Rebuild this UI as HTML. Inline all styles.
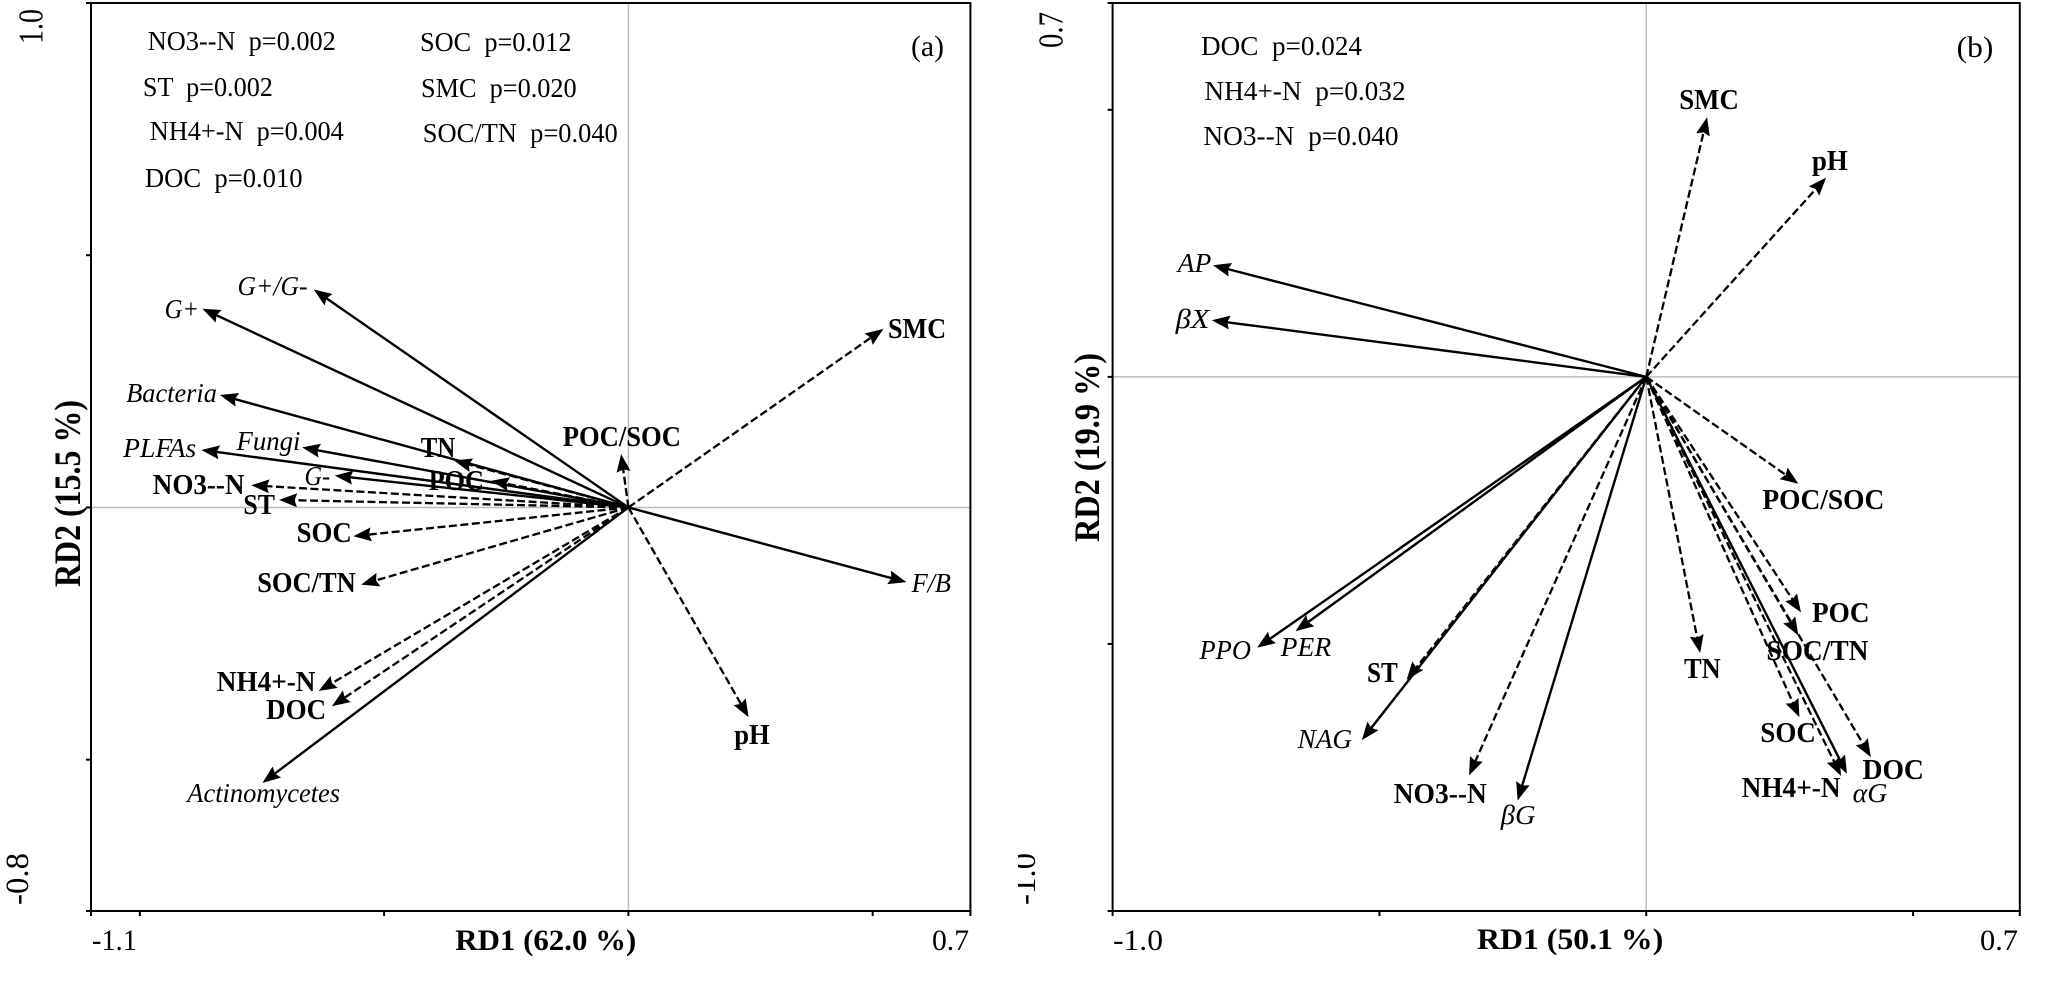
<!DOCTYPE html>
<html>
<head>
<meta charset="utf-8">
<title>RDA biplots</title>
<style>
html,body{margin:0;padding:0;background:#fff;width:2066px;height:986px;overflow:hidden}
svg{display:block;position:absolute;left:0;top:0}
text{font-family:"Liberation Serif",serif;fill:#000;white-space:pre}
.b{font-weight:bold;font-size:28px}
.i{font-style:italic;font-size:27px}
.r{font-size:27px}
.t{font-size:30px}
.at{font-size:30px;font-weight:bold}
</style>
</head>
<body>
<svg id="chart" width="2066" height="986" viewBox="0 0 2066 986" xmlns="http://www.w3.org/2000/svg">
<defs><clipPath id="clipTick"><rect x="1018" y="840" width="40" height="80"/></clipPath></defs>
<g id="marksA"></g>
<g id="marksB"></g>

<!-- Panel a static text -->
<g>
<text class="r" x="147.8" y="50" textLength="188" lengthAdjust="spacingAndGlyphs">NO3--N  p=0.002</text>
<text class="r" x="142.9" y="96" textLength="130" lengthAdjust="spacingAndGlyphs">ST  p=0.002</text>
<text class="r" x="149.8" y="140" textLength="194" lengthAdjust="spacingAndGlyphs">NH4+-N  p=0.004</text>
<text class="r" x="144.9" y="187" textLength="157.7" lengthAdjust="spacingAndGlyphs">DOC  p=0.010</text>
<text class="r" x="420" y="51" textLength="151.5" lengthAdjust="spacingAndGlyphs">SOC  p=0.012</text>
<text class="r" x="421" y="97" textLength="155.7" lengthAdjust="spacingAndGlyphs">SMC  p=0.020</text>
<text class="r" x="422.8" y="142" textLength="195" lengthAdjust="spacingAndGlyphs">SOC/TN  p=0.040</text>
</g>
<text class="t" x="911" y="56" textLength="33" lengthAdjust="spacingAndGlyphs">(a)</text>

<g>
<text class="i" x="237.5" y="295" textLength="70" lengthAdjust="spacingAndGlyphs">G+/G-</text>
<text class="i" x="164.6" y="318" textLength="34.5" lengthAdjust="spacingAndGlyphs">G+</text>
<text class="i" x="126.2" y="402" textLength="90.7" lengthAdjust="spacingAndGlyphs">Bacteria</text>
<text class="i" x="236.5" y="450" textLength="64" lengthAdjust="spacingAndGlyphs">Fungi</text>
<text class="i" x="123.2" y="457" textLength="73" lengthAdjust="spacingAndGlyphs">PLFAs</text>
<text class="b" x="420.8" y="457" textLength="34.5" lengthAdjust="spacingAndGlyphs">TN</text>
<text class="b" x="428.7" y="490" textLength="55.2" lengthAdjust="spacingAndGlyphs">POC</text>
<text class="i" x="304.5" y="485" textLength="25.6" lengthAdjust="spacingAndGlyphs">G-</text>
<text class="b" x="152.8" y="494" textLength="91.7" lengthAdjust="spacingAndGlyphs">NO3--N</text>
<text class="b" x="243.4" y="514" textLength="31.5" lengthAdjust="spacingAndGlyphs">ST</text>
<text class="b" x="296.6" y="542" textLength="55.2" lengthAdjust="spacingAndGlyphs">SOC</text>
<text class="b" x="257.2" y="592" textLength="98.6" lengthAdjust="spacingAndGlyphs">SOC/TN</text>
<text class="b" x="216.8" y="691" textLength="98.6" lengthAdjust="spacingAndGlyphs">NH4+-N</text>
<text class="b" x="266.1" y="719" textLength="60.1" lengthAdjust="spacingAndGlyphs">DOC</text>
<text class="i" x="187.3" y="802" textLength="152.8" lengthAdjust="spacingAndGlyphs">Actinomycetes</text>
<text class="b" x="734.2" y="744" textLength="35.5" lengthAdjust="spacingAndGlyphs">pH</text>
<text class="i" x="911.6" y="592" textLength="39.4" lengthAdjust="spacingAndGlyphs">F/B</text>
<text class="b" x="888" y="338" textLength="58.1" lengthAdjust="spacingAndGlyphs">SMC</text>
<text class="b" x="562.7" y="446" textLength="118.3" lengthAdjust="spacingAndGlyphs">POC/SOC</text>
</g>

<text class="t" x="92" y="950" textLength="45" lengthAdjust="spacingAndGlyphs">-1.1</text>
<text class="t" x="932" y="950" textLength="37" lengthAdjust="spacingAndGlyphs">0.7</text>
<text class="at" x="455.3" y="950" textLength="181" lengthAdjust="spacingAndGlyphs">RD1 (62.0 %)</text>
<text class="at" transform="translate(80,587) rotate(-90) scale(1,1.25)" textLength="187" lengthAdjust="spacingAndGlyphs">RD2 (15.5 %)</text>
<text style="font-size:28px" transform="translate(42.4,44) rotate(-90) scale(1,1.25)" textLength="35" lengthAdjust="spacingAndGlyphs">1.0</text>
<text class="t" transform="translate(28,905) rotate(-90) scale(1,1.1)" textLength="52" lengthAdjust="spacingAndGlyphs">-0.8</text>

<!-- Panel b static text -->
<g>
<text class="r" x="1201" y="55" textLength="161" lengthAdjust="spacingAndGlyphs">DOC  p=0.024</text>
<text class="r" x="1204.4" y="100" textLength="201.2" lengthAdjust="spacingAndGlyphs">NH4+-N  p=0.032</text>
<text class="r" x="1203.4" y="145" textLength="195.2" lengthAdjust="spacingAndGlyphs">NO3--N  p=0.040</text>
</g>
<text class="t" x="1956.7" y="57" textLength="36.7" lengthAdjust="spacingAndGlyphs">(b)</text>

<g>
<text class="b" x="1679.3" y="109" textLength="59.5" lengthAdjust="spacingAndGlyphs">SMC</text>
<text class="b" x="1812" y="170" textLength="35.7" lengthAdjust="spacingAndGlyphs">pH</text>
<text class="i" x="1177.7" y="272" textLength="33.7" lengthAdjust="spacingAndGlyphs">AP</text>
<text class="i" x="1175.7" y="328" textLength="33.7" lengthAdjust="spacingAndGlyphs">βX</text>
<text class="b" x="1762.4" y="509" textLength="121.9" lengthAdjust="spacingAndGlyphs">POC/SOC</text>
<text class="b" x="1812" y="622" textLength="57.5" lengthAdjust="spacingAndGlyphs">POC</text>
<text class="b" x="1766.4" y="660" textLength="102" lengthAdjust="spacingAndGlyphs">SOC/TN</text>
<text class="b" x="1684" y="678" textLength="36.7" lengthAdjust="spacingAndGlyphs">TN</text>
<text class="b" x="1760.4" y="742" textLength="55.5" lengthAdjust="spacingAndGlyphs">SOC</text>
<text class="b" x="1862.5" y="779" textLength="61.4" lengthAdjust="spacingAndGlyphs">DOC</text>
<text class="b" x="1741.6" y="797" textLength="99" lengthAdjust="spacingAndGlyphs">NH4+-N</text>
<text class="i" x="1852.6" y="802" textLength="34.7" lengthAdjust="spacingAndGlyphs">αG</text>
<text class="i" x="1500.8" y="824" textLength="34.7" lengthAdjust="spacingAndGlyphs">βG</text>
<text class="b" x="1393.7" y="803" textLength="93.2" lengthAdjust="spacingAndGlyphs">NO3--N</text>
<text class="i" x="1297.6" y="748" textLength="54.5" lengthAdjust="spacingAndGlyphs">NAG</text>
<text class="b" x="1367" y="682" textLength="30.7" lengthAdjust="spacingAndGlyphs">ST</text>
<text class="i" x="1199.5" y="659" textLength="51.5" lengthAdjust="spacingAndGlyphs">PPO</text>
<text class="i" x="1280.7" y="656" textLength="50.5" lengthAdjust="spacingAndGlyphs">PER</text>
</g>

<text class="t" x="1113" y="950" textLength="50" lengthAdjust="spacingAndGlyphs">-1.0</text>
<text class="t" x="1980" y="950" textLength="38" lengthAdjust="spacingAndGlyphs">0.7</text>
<text class="at" x="1477" y="949" textLength="186.3" lengthAdjust="spacingAndGlyphs">RD1 (50.1 %)</text>
<text class="at" transform="translate(1099,542) rotate(-90) scale(1,1.2)" textLength="189" lengthAdjust="spacingAndGlyphs">RD2 (19.9 %)</text>
<text style="font-size:28px" transform="translate(1062.7,48) rotate(-90) scale(1,1.25)" textLength="36" lengthAdjust="spacingAndGlyphs">0.7</text>
<g clip-path="url(#clipTick)"><text class="t" transform="translate(1035,905) rotate(-90) scale(1,1.1)" textLength="52" lengthAdjust="spacingAndGlyphs">-1.0</text></g>
</svg>

<script>
// Panel (a) — response variables (solid arrows)
const respNamesA = ["G+/G-","G+","Bacteria","Fungi","PLFAs","G-","Actinomycetes","F/B"];
const respRd1A = [-0.644,-0.872,-0.836,-0.668,-0.874,-0.601,-0.749,0.569];
const respRd2A = [0.432,0.394,0.223,0.119,0.114,0.063,-0.546,-0.148];
// Panel (a) — environmental variables (dashed arrows)
const envNamesA = ["TN","POC","NO3--N","ST","SOC","SOC/TN","NH4+-N","DOC","pH","SMC","POC/SOC"];
const envRd1A = [-0.357,-0.281,-0.772,-0.715,-0.563,-0.547,-0.634,-0.607,0.246,0.522,-0.015];
const envRd2A = [0.093,0.053,0.044,0.015,-0.057,-0.153,-0.364,-0.394,-0.416,0.354,0.106];
const xTicksA = [-1.1,-1.0,-0.5,0,0.5,0.7];
const yTicksA = [1.0,0.5,0,-0.5,-0.8];

// Panel (b) — response variables (solid arrows)
const respNamesB = ["AP","βX","PPO","PER","NAG","βG","αG"];
const respRd1B = [-0.812,-0.814,-0.729,-0.657,-0.533,-0.241,0.376];
const respRd2B = [0.209,0.106,-0.507,-0.476,-0.680,-0.793,-0.743];
// Panel (b) — environmental variables (dashed arrows)
const envNamesB = ["SMC","pH","POC/SOC","ST","NO3--N","TN","POC","SOC/TN","SOC","NH4+-N","DOC"];
const envRd1B = [0.114,0.337,0.285,-0.449,-0.332,0.101,0.290,0.285,0.287,0.365,0.421];
const envRd2B = [0.486,0.373,-0.200,-0.567,-0.746,-0.517,-0.441,-0.484,-0.637,-0.747,-0.712];
const xTicksB = [-1.0,-0.5,0,0.5,0.7];
const yTicksB = [0.7,0.5,0,-0.5,-1.0];

const NS = "http://www.w3.org/2000/svg";

function scale(d0, d1, r0, r1) {
  return function (v) { return r0 + (v - d0) / (d1 - d0) * (r1 - r0); };
}

function el(parent, tag, attrs) {
  const n = document.createElementNS(NS, tag);
  for (const k in attrs) n.setAttribute(k, attrs[k]);
  parent.appendChild(n);
  return n;
}

function drawArrow(g, sx, sy, x, y, name, dashed) {
  const x0 = sx(0), y0 = sy(0), x1 = sx(x), y1 = sy(y);
  const len = Math.hypot(x1 - x0, y1 - y0) || 1;
  const ux = (x1 - x0) / len, uy = (y1 - y0) / len;
  const hl = 18, hw = 7;
  const bx = x1 - ux * hl, by = y1 - uy * hl;
  const nx = bx + ux * 2.5, ny = by + uy * 2.5;
  const line = el(g, "line", {
    x1: x0, y1: y0, x2: nx + ux, y2: ny + uy,
    stroke: "#000",
    "stroke-width": dashed ? 2.3 : 2.4,
    "stroke-dasharray": dashed ? "8 3.5" : "none"
  });
  
  
  const head = el(g, "polygon", {
    points: x1 + "," + y1 + " " + (bx - uy * hw) + "," + (by + ux * hw) + " " + nx + "," + ny + " " + (bx + uy * hw) + "," + (by - ux * hw),
    fill: "#000"
  });
  
  
}

function drawPanel(gid, xDom, yDom, xRange, yRange, xTicks, yTicks, resp, env) {
  const g = document.getElementById(gid);
  const sx = scale(xDom[0], xDom[1], xRange[0], xRange[1]);
  const sy = scale(yDom[0], yDom[1], yRange[0], yRange[1]);

  const zeroV = el(g, "line", { x1: sx(0), x2: sx(0), y1: yRange[1], y2: yRange[0], stroke: "#bdbdbd", "stroke-width": 1.5 });
  
  
  const zeroH = el(g, "line", { x1: xRange[0], x2: xRange[1], y1: sy(0), y2: sy(0), stroke: "#bdbdbd", "stroke-width": 1.5 });
  
  

  const frame = el(g, "rect", {
    x: xRange[0], y: yRange[1], width: xRange[1] - xRange[0], height: yRange[0] - yRange[1],
    fill: "none", stroke: "#000", "stroke-width": 2
  });
  
  

  xTicks.forEach(function (t) {
    const tick = el(g, "line", { x1: sx(t), x2: sx(t), y1: yRange[0], y2: yRange[0] + 5, stroke: "#000", "stroke-width": 2 });
    
    
  });
  yTicks.forEach(function (t) {
    const tick = el(g, "line", { x1: xRange[0] - 5, x2: xRange[0], y1: sy(t), y2: sy(t), stroke: "#000", "stroke-width": 2 });
    
    
  });

  resp[0].forEach(function (name, i) { drawArrow(g, sx, sy, resp[1][i], resp[2][i], name, false); });
  env[0].forEach(function (name, i) { drawArrow(g, sx, sy, env[1][i], env[2][i], name, true); });
}

drawPanel("marksA", [-1.1, 0.7], [-0.8, 1.0], [91, 970.4], [911, 3],
  xTicksA, yTicksA, [respNamesA, respRd1A, respRd2A], [envNamesA, envRd1A, envRd2A]);
drawPanel("marksB", [-1.0, 0.7], [-1.0, 0.7], [1112.6, 2019.8], [911, 3],
  xTicksB, yTicksB, [respNamesB, respRd1B, respRd2B], [envNamesB, envRd1B, envRd2B]);
</script>
</body>
</html>
